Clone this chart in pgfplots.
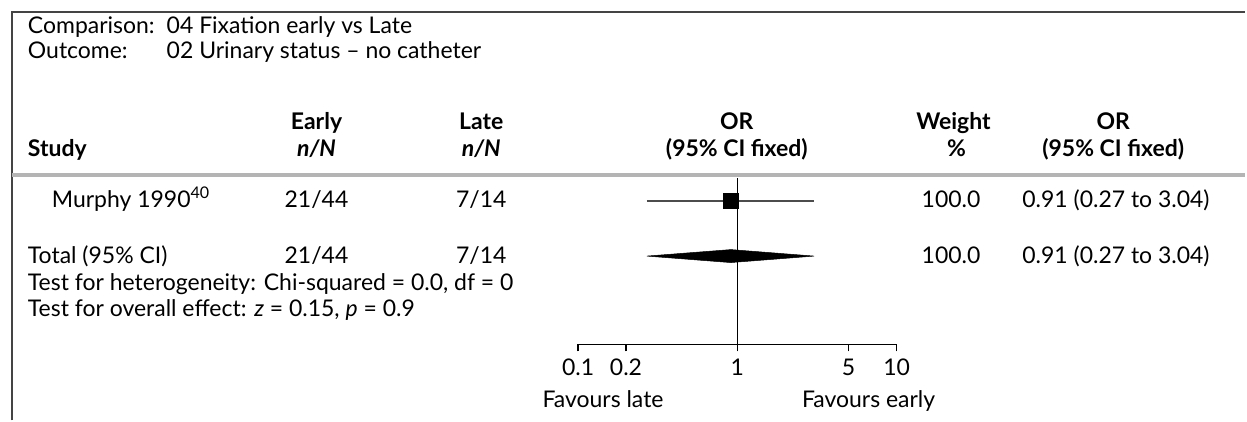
\documentclass[border=0pt]{standalone}
\usepackage{pgfplots}
\pgfplotsset{compat=1.18}
\usepackage{fontspec}
\setmainfont{Lato}
\definecolor{rulegray}{HTML}{B4B4B4}
\definecolor{framegray}{HTML}{444444}
\begin{document}
\fontsize{23}{28}\selectfont
\begin{tikzpicture}[x=1pt,y=1pt,every node/.style={inner sep=0pt,outer sep=0pt}]
% page extent
\path (0,0) rectangle (1247,421);
% frame
\draw[line width=1.5pt,framegray] (12,0) -- (12,409) -- (1247,409);
% title block
\node[anchor=base west] at (28,387) {Comparison:};
\node[anchor=base west] at (167,387) {04 Fixation early vs Late};
\node[anchor=base west] at (28,362) {Outcome:};
\node[anchor=base west] at (167,362) {02 Urinary status – no catheter};
% column headings
\begin{scope}[every node/.append style={font=\bfseries}]
\node[anchor=base] at (317,291) {Early};
\node[anchor=base] at (482,291) {Late};
\node[anchor=base] at (738,291) {OR};
\node[anchor=base] at (955,291) {Weight};
\node[anchor=base] at (1115,291) {OR};
\node[anchor=base west] at (28,264) {Study};
\node[anchor=base] at (317,264) {\itshape n/N};
\node[anchor=base] at (482,264) {\itshape n/N};
\node[anchor=base] at (738,264) {(95\% CI fixed)};
\node[anchor=base] at (958,264) {\%};
\node[anchor=base] at (1115,264) {(95\% CI fixed)};
\end{scope}
\draw[line width=4pt,rulegray] (12,246) -- (1247,246);
% study row
\node[anchor=base west] at (52,213) {Murphy 1990\textsuperscript{40}};
\node[anchor=base] at (317,213) {21/44};
\node[anchor=base] at (482,213) {7/14};
\node[anchor=base east] at (982,213) {100.0};
\node[anchor=base west] at (1024,213) {0.91 (0.27 to 3.04)};
% pooled row
\node[anchor=base west] at (28,157) {Total (95\% CI)};
\node[anchor=base] at (317,157) {21/44};
\node[anchor=base] at (482,157) {7/14};
\node[anchor=base east] at (982,157) {100.0};
\node[anchor=base west] at (1024,157) {0.91 (0.27 to 3.04)};
\node[anchor=base west] at (28,130) {Test for heterogeneity: Chi-squared = 0.0, df = 0};
\node[anchor=base west] at (28,104) {Test for overall effect: \textit{z} = 0.15, \textit{p} = 0.9};
% forest plot on a log odds-ratio scale
\begin{axis}[
  at={(579pt,76pt)}, anchor=south west,
  scale only axis, width=319pt, height=167pt,
  xmode=log, xmin=0.1, xmax=10, ymin=0, ymax=167,
  axis y line=none, axis x line*=bottom,
  x axis line style={line width=1.6pt,-},
  xtick={0.1,0.2,1,5,10},
  xticklabels={0.1,0.2,1,5,10},
  minor tick num=0,
  tick align=outside, major tick length=7pt,
  every tick/.style={black,line width=1.6pt},
  xticklabel style={font=\fontsize{23}{28}\selectfont, anchor=base, yshift=-24pt},
  clip=false,
]
\addplot[black, line width=1.3pt] coordinates {(1,0) (1,167)};
\addplot[black!70, line width=1.8pt] coordinates {(0.27,144) (3.04,144)};
\addplot[only marks, mark=square*, mark size=7.5pt, black] coordinates {(0.91,144)};
\addplot[fill=black, draw=black, line width=0.5pt]
  coordinates {(0.27,88.5) (0.91,95) (3.04,88.5) (0.91,82) (0.27,88.5)};
\end{axis}
\node[anchor=base] at (604,13) {Favours late};
\node[anchor=base] at (870,13) {Favours early};
\end{tikzpicture}
\end{document}
